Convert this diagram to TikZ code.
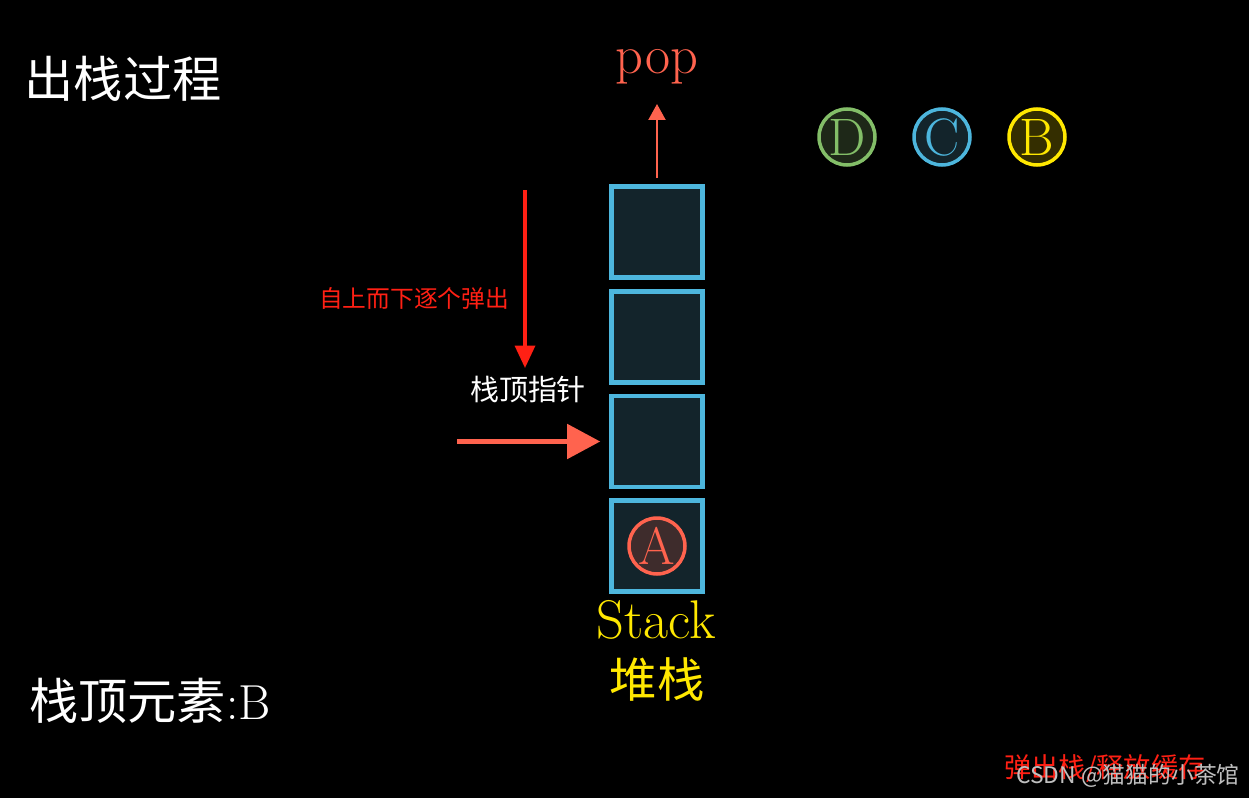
\documentclass[tikz,border=0pt]{standalone}
\usepackage{fontspec}
\newfontfamily\cjk{Noto Sans CJK SC}
\usetikzlibrary{arrows.meta, positioning}

\definecolor{cellline}{RGB}{77,182,221}
\definecolor{cellfill}{RGB}{19,36,43}
\definecolor{tomato}{RGB}{255,99,78}
\definecolor{tomatobg}{RGB}{62,44,44}
\definecolor{dgreen}{RGB}{131,190,104}
\definecolor{dgreenbg}{RGB}{30,40,24}
\definecolor{byellow}{RGB}{255,232,0}
\definecolor{byellowbg}{RGB}{52,46,0}
\definecolor{hotred}{RGB}{255,32,20}

\tikzset{
  cell/.style={draw=cellline, fill=cellfill, line width=2.6pt, minimum size=1.82cm, inner sep=0pt},
  ball/.style={circle, line width=2pt, minimum size=1.12cm, inner sep=0pt, font=\fontsize{30}{30}\selectfont},
  bigtext/.style={text=white, font=\cjk\fontsize{28}{28}\selectfont},
}

\begin{document}
\begin{tikzpicture}[x=0.02cm,y=-0.02cm,>=Latex]
\fill[black] (0,0) rectangle (1249,798);

% stack cells, bottom to top
\foreach \n/\y in {s1/546,s2/441.5,s3/337,s4/232}
  \node[cell] (\n) at (657,\y) {};

\node[ball, draw=tomato, fill=tomatobg, text=tomato] (A) at (s1) {A};

\node[ball, draw=dgreen, fill=dgreenbg, text=dgreen] (D) at (847,137) {D};
\node[ball, draw=cellline, fill=cellfill, text=cellline] (C) at (942,137) {C};
\node[ball, draw=byellow, fill=byellowbg, text=byellow] (B) at (1037,137) {B};

% pop
\node[text=tomato, font=\fontsize{31}{31}\selectfont] (pop) at (657,67) {pop};
\coordinate (poptip) at (657,104);
\draw[->, tomato, line width=1.2pt, >={Triangle[length=0.32cm,width=0.34cm]}] ([yshift=0.12cm]s4.north) -- (poptip);

% stack top pointer
\node[text=white, font=\cjk\fontsize{16.5}{16.5}\selectfont] (ptr) at (528,390) {栈顶指针};
\coordinate (ptrtail) at (457,441.5);
\draw[->, tomato, line width=2.8pt, >={Triangle[length=0.66cm,width=0.68cm]}] (ptrtail) -- ([xshift=-0.18cm]s2.west);

% pop order
\node[text=hotred, font=\cjk\fontsize{13.5}{13.5}\selectfont] (order) at (414,298) {自上而下逐个弹出};
\coordinate (downtop) at (525,190);
\coordinate (downtip) at (525,368);
\draw[->, hotred, line width=2pt, >={Triangle[length=0.45cm,width=0.4cm]}] (downtop) -- (downtip);

% captions
\node[text=byellow, font=\fontsize{31}{31}\selectfont] (stk) at (656,620) {Stack};
\node[text=byellow, font=\cjk\fontsize{27}{27}\selectfont] (stkcn) at (657,679) {堆栈};

\node[bigtext] (title) at (123,79) {出栈过程};
\node[bigtext] (topel) at (150,701) {栈顶元素\rmfamily :B};

\node[text=hotred, font=\cjk\fontsize{15.5}{15.5}\selectfont] (release) at (1105,768) {弹出栈/释放缓存};
\node[text=white!75!black, font=\cjk\fontsize{13}{13}\selectfont] (mark) at (1128,776) {CSDN @猫猫的小茶馆};
\end{tikzpicture}
\end{document}
